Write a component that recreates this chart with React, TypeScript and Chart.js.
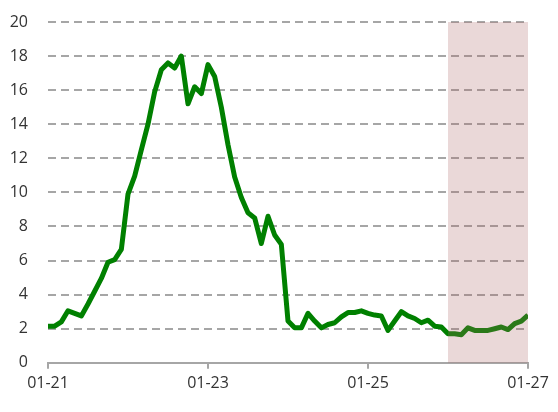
import React, { useEffect, useRef } from "react";
import { Chart, registerables } from "chart.js";

Chart.register(...registerables);

// Month index (0 = Jan 2021) and values
const seriesValues: number[] = [
  2.15, 2.15, 2.4, 3.05, 2.9, 2.75, 3.45, 4.2, 4.95, 5.9, 6.05, 6.65,
  9.9, 10.95, 12.5, 14.0, 15.9, 17.2, 17.6, 17.3, 18.0, 15.2, 16.2, 15.8,
  17.5, 16.8, 15.0, 12.8, 10.9, 9.7, 8.8, 8.5, 7.0, 8.6, 7.5, 6.95,
  2.45, 2.05, 2.05, 2.9, 2.45, 2.05, 2.25, 2.35, 2.7, 2.95, 2.95, 3.05,
  2.9, 2.8, 2.75, 1.9, 2.45, 3.0, 2.75, 2.6, 2.35, 2.5, 2.15, 2.1,
  1.7, 1.7, 1.65, 2.05, 1.9, 1.9, 1.9, 2.0, 2.1, 1.95, 2.3, 2.45,
  2.8,
];
const tickLabels: string[] = ["01-21", "01-23", "01-25", "01-27"];
const tickStep = 24; // months between labelled ticks
const xMin = 0;
const xMax = 72;
const yMin = 0;
const yMax = 20;
const yStep = 2;
const shadeStart = 60; // month index, 01-26
const shadeEnd = 72; // month index, 01-27

const FONT = "'Open Sans', sans-serif";

export default function App() {
  const ref = useRef<HTMLCanvasElement | null>(null);

  useEffect(() => {
    if (!ref.current) return;
    const points = seriesValues.map((v, i) => ({ x: i, y: v }));

    const shadePlugin = {
      id: "shade",
      afterDatasetsDraw(chart: any) {
        const { ctx, scales } = chart;
        const xs = scales.x;
        const ys = scales.y;
        const x0 = xs.getPixelForValue(shadeStart);
        const x1 = xs.getPixelForValue(shadeEnd);
        const y0 = ys.getPixelForValue(yMax);
        const y1 = ys.getPixelForValue(yMin);
        ctx.save();
        ctx.fillStyle = "rgba(170,100,100,0.25)";
        ctx.fillRect(x0, y0, x1 - x0, y1 - y0);
        ctx.restore();
      },
    };

    const chart = new Chart(ref.current, {
      type: "line",
      data: {
        datasets: [
          {
            data: points,
            borderColor: "#008000",
            borderWidth: 5,
            pointRadius: 0,
            tension: 0,
            fill: false,
            borderJoinStyle: "round",
          },
        ],
      },
      options: {
        animation: false,
        responsive: false,
        layout: { padding: { left: 8, right: 30, top: 22, bottom: 14 } },
        plugins: {
          legend: { display: false },
          tooltip: { enabled: false },
        },
        scales: {
          x: {
            type: "linear",
            min: xMin,
            max: xMax,
            ticks: {
              stepSize: tickStep,
              autoSkip: false,
              maxRotation: 0,
              padding: 5,
              color: "#333333",
              font: { family: FONT, size: 16 },
              callback: (v: any) => {
                const idx = Math.round(Number(v) / tickStep);
                return tickLabels[idx] ?? "";
              },
            },
            grid: {
              display: true,
              drawOnChartArea: false,
              drawTicks: true,
              tickLength: 6,
              color: "#a6a6a6",
              lineWidth: 2,
            },
            border: { display: true, color: "#a6a6a6", width: 2 },
          },
          y: {
            min: yMin,
            max: yMax,
            afterFit: (scale: any) => {
              scale.width = 40;
              scale.paddingTop = 0;
              scale.paddingBottom = 0;
            },
            ticks: {
              stepSize: yStep,
              padding: 20,
              color: "#333333",
              font: { family: FONT, size: 16 },
            },
            grid: {
              display: true,
              drawTicks: false,
              color: "#a6a6a6",
              lineWidth: 2,
            },
            border: { display: false, dash: [8, 5] },
          },
        },
      },
      plugins: [shadePlugin],
    } as any);

    return () => chart.destroy();
  }, []);

  return (
    <div style={{ position: "fixed", left: 0, top: 0, width: 558, height: 412, background: "#fff" }}>
      <canvas ref={ref} width={558} height={412} style={{ display: "block" }} />
    </div>
  );
}
